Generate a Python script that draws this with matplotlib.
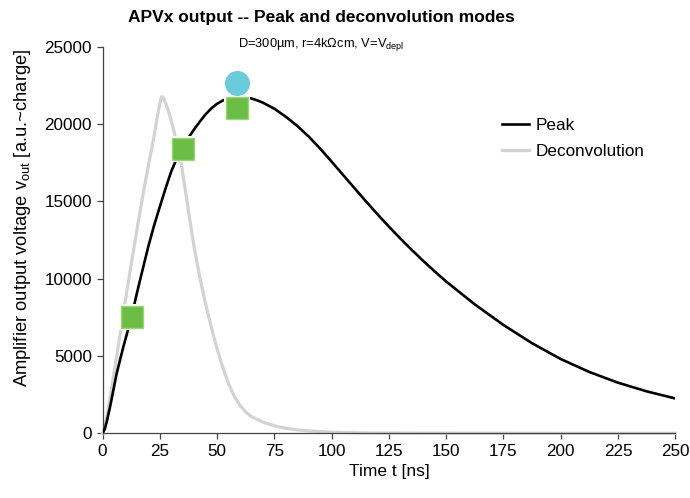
import matplotlib
matplotlib.use("Agg")
import matplotlib.pyplot as plt

plt.rcParams['font.family'] = ['Liberation Sans', 'DejaVu Sans']
plt.rcParams['mathtext.default'] = 'regular'

# peak mode output
t_peak = [0, 1, 2, 3.3, 5, 6.2, 7.5, 9.1, 10, 12.5, 15, 17.5, 20, 22.5, 25, 27.5, 30, 32.5,
          35, 37.5, 40, 42.5, 45, 47.5, 50, 52.5, 55, 57.5, 60, 62.5, 65, 67.5, 70, 75,
          80, 85, 90, 95, 100, 105, 110, 115, 120, 125, 130, 135, 140, 145, 150,
          162.5, 175, 187.5, 200, 212.5, 225, 237.5, 250]
v_peak = [0, 280, 850, 1720, 2990, 3880, 4650, 5600, 6080, 7430, 9060, 10580, 12080, 13430,
          14640, 15820, 16930, 17800, 18480, 19100, 19650, 20150, 20620, 21000, 21300,
          21510, 21650, 21730, 21750, 21720, 21640, 21520, 21370, 20980, 20460, 19870,
          19180, 18400, 17560, 16700, 15840, 14990, 14160, 13360, 12590, 11850, 11140,
          10460, 9810, 8330, 7000, 5820, 4800, 3960, 3270, 2710, 2250]

# deconvolution mode output
t_deco = [0, 1, 2, 4, 6, 8, 10, 12, 14, 16, 18, 20, 22, 23, 24, 25, 25.8, 26.6,
          27.5, 28.5, 30, 32, 34, 36, 38, 40, 42.5, 45, 47.5, 50, 52.5, 55, 57.5, 60,
          62.5, 65, 70, 75, 80, 85, 90, 100, 112.5, 125, 150, 175, 200, 250]
v_deco = [0, 350, 1150, 2950, 4800, 6700, 8600, 10450, 12250, 14000, 15700, 17300, 18800,
          19650, 20550, 21300, 21760, 21680, 21350, 20950, 20200, 19050, 17750, 15850,
          13900, 12000, 10050, 8350, 6850, 5450, 4250, 3200, 2400, 1800, 1380, 1080, 720,
          480, 320, 220, 150, 70, 30, 15, 5, 2, 0, 0]

# sample markers
sq_t = [12.7, 35.0, 58.5]
sq_v = [7500, 18380, 21000]
circ_t = [58.5]
circ_v = [22660]

fig = plt.figure(figsize=(6.9, 4.98), dpi=100)
ax = fig.add_axes([0.1486, 0.130, 0.830, 0.7766])

ax.plot(t_deco, v_deco, color='#d3d3d3', lw=2.3, label='Deconvolution', zorder=2,
        solid_joinstyle='round', clip_on=False)
ax.plot(t_peak, v_peak, color='black', lw=1.9, label='Peak', zorder=3,
        solid_joinstyle='round')

# green squares with white rim and dotted lighter edge
ax.plot(sq_t, sq_v, ls='none', marker='s', ms=17.5, mfc='white', mec='white', mew=1.5, zorder=4)
ax.plot(sq_t, sq_v, ls='none', marker='s', ms=15.5, mfc='#6cbd45', mec='#9ad57a', mew=1.0, zorder=5)
ax.plot(circ_t, circ_v, ls='none', marker='o', ms=17, mfc='#6bcbdc', mec='#6bcbdc', zorder=5)

ax.set_xlim(0, 250)
ax.set_ylim(0, 25000)
ax.set_xticks(range(0, 251, 25))
ax.set_yticks(range(0, 25001, 5000))
ax.spines['top'].set_visible(False)
ax.spines['right'].set_visible(False)
for s in ['left', 'bottom']:
    ax.spines[s].set_color('#444444')
    ax.spines[s].set_linewidth(0.9)
ax.tick_params(direction='out', length=4, width=0.9, color='#444444', labelsize=12.3)

ax.set_xlabel('Time t [ns]', fontsize=12.5, labelpad=4)
ax.set_ylabel('Amplifier output voltage v$_{out}$ [a.u.~charge]', fontsize=13.2)
ax.yaxis.set_label_coords(-0.121, 0.557)

fig.text(0.466, 0.955, 'APVx output -- Peak and deconvolution modes', ha='center',
         fontsize=12.5, fontweight='bold')
fig.text(0.466, 0.905, 'D=300\u00b5m, r=4k\u03a9cm, V=V$_{depl}$', ha='center', fontsize=9.3)

handles, labels = ax.get_legend_handles_labels()
ax.legend(handles[::-1], labels[::-1], loc='upper left', bbox_to_anchor=(0.67, 0.855),
          frameon=False, fontsize=12.3, handlelength=1.6, handletextpad=0.4, labelspacing=0.65)

fig.savefig('out.png', dpi=100)
